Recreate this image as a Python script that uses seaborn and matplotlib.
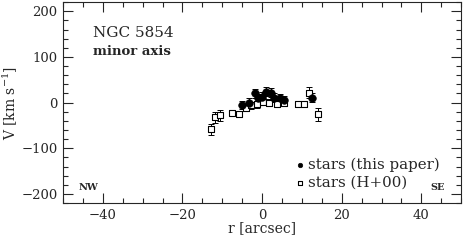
import numpy as np
import pandas as pd
import matplotlib
matplotlib.use('Agg')
import matplotlib.pyplot as plt
import seaborn as sns
from matplotlib.ticker import MultipleLocator

# stars (this paper)
r_this = [-5.0, -3.3, -1.8, -1.0, 0.0, 1.0, 2.3, 3.0, 4.5, 5.5, 12.5]
v_this = [-6, 0, 20, 9, 13, 24, 22, 11, 9, 6, 11]
e_this = [9, 9, 10, 9, 10, 10, 10, 9, 9, 9, 10]

# stars (H+00)
r_h00 = [-12.8, -11.8, -10.5, -7.5, -5.8, -4.0, -2.8, -1.3, 0.3, 1.8, 3.8, 5.5, 9.0, 10.5, 11.8, 14.0]
v_h00 = [-58, -32, -28, -22, -24, -11, -6, -4, 2, 0, -2, 0, -4, -4, 22, -26]
e_h00 = [12, 12, 12, 6, 6, 8, 8, 8, 8, 8, 8, 8, 5, 5, 12, 14]

df_this = pd.DataFrame({'r': r_this, 'v': v_this, 'err': e_this})
df_h00 = pd.DataFrame({'r': r_h00, 'v': v_h00, 'err': e_h00})

sns.set_style('ticks')
plt.rcParams['font.family'] = ['DejaVu Serif']
plt.rcParams['mathtext.fontset'] = 'dejavuserif'

fig = plt.figure(figsize=(4.63, 2.42), dpi=100)
ax = fig.add_axes([0.136, 0.161, 0.860, 0.830])

ax.errorbar(df_h00['r'], df_h00['v'], yerr=df_h00['err'], fmt='none',
            ecolor='black', elinewidth=0.7, capsize=2, capthick=0.7, zorder=1)
ax.errorbar(df_this['r'], df_this['v'], yerr=df_this['err'], fmt='none',
            ecolor='black', elinewidth=0.7, capsize=2, capthick=0.7, zorder=1)
sns.scatterplot(data=df_h00, x='r', y='v', ax=ax, marker='s', s=24,
                facecolor='white', edgecolor='black', linewidth=0.8,
                label='stars (H+00)', zorder=2)
sns.scatterplot(data=df_this, x='r', y='v', ax=ax, marker='o', s=30,
                color='black', edgecolor='black', label='stars (this paper)', zorder=3)

ax.set_xlim(-50, 50)
ax.set_ylim(-220, 220)
ax.xaxis.set_major_locator(MultipleLocator(20))
ax.xaxis.set_minor_locator(MultipleLocator(5))
ax.yaxis.set_major_locator(MultipleLocator(100))
ax.yaxis.set_minor_locator(MultipleLocator(20))
ax.tick_params(which='both', direction='in', top=True, right=True, labelsize=9.5, pad=4)
ax.tick_params(which='major', length=7, width=0.8)
ax.tick_params(which='minor', length=3.5, width=0.8)
for sp in ax.spines.values():
    sp.set_linewidth(0.8)

ax.set_xlabel('r [arcsec]', fontsize=10, labelpad=0)
ax.set_ylabel(r'V [km s$^{-1}$]', fontsize=10, labelpad=1)

ax.text(-42.5, 152, 'NGC 5854', fontsize=11, va='center')
ax.text(-42.5, 112, 'minor axis', fontsize=9.5, va='center', fontweight='bold')
ax.text(-46, -185, 'NW', fontsize=7, va='center', fontweight='bold')
ax.text(46, -185, 'SE', fontsize=7, va='center', ha='right', fontweight='bold')

h, l = ax.get_legend_handles_labels()
ax.legend(h[::-1], l[::-1], loc='lower right', bbox_to_anchor=(0.96, 0.035),
          frameon=False, fontsize=10.8, handletextpad=0.0, labelspacing=0.3,
          markerscale=0.6, handlelength=1.0, borderaxespad=0)

fig.savefig('out.png', dpi=100)
